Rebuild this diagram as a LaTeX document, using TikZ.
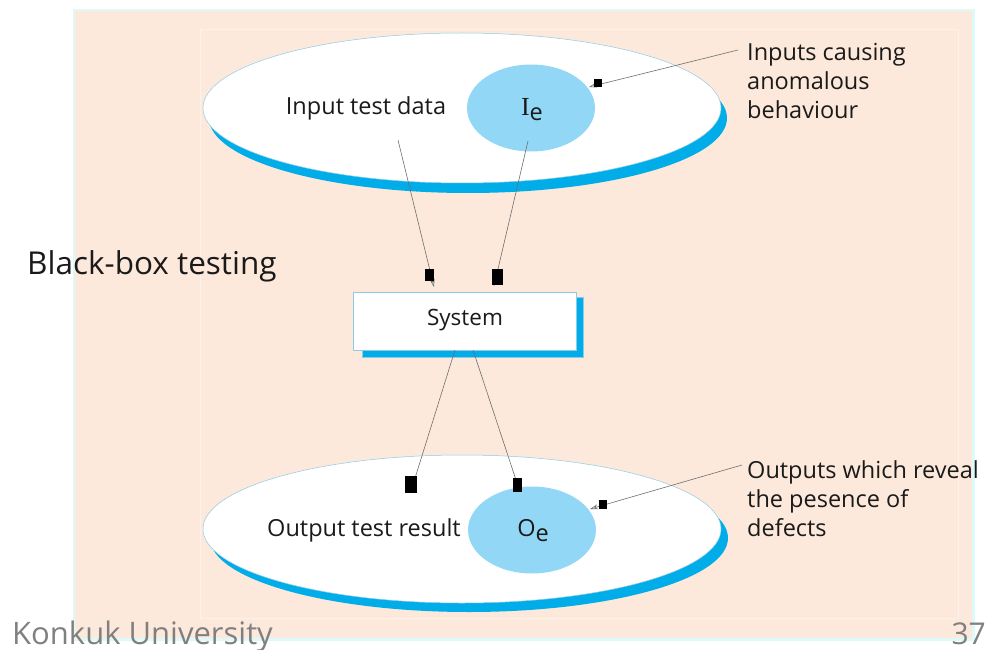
\documentclass[tikz,border=0pt]{standalone}
\usepackage{fontspec}
\setmainfont{Open Sans}
\newfontfamily\serifletter{Liberation Serif}
\usetikzlibrary{shapes.geometric,arrows.meta}

\definecolor{peach}{HTML}{FCE9DB}
\definecolor{panelrim}{HTML}{DCFAFA}
\definecolor{innerline}{HTML}{FDF1E9}
\definecolor{shadowblue}{HTML}{00ADE8}
\definecolor{setblue}{HTML}{92D8F6}
\definecolor{rimblue}{HTML}{8CCBE8}
\definecolor{arrowgray}{HTML}{6E6E6E}
\definecolor{footgray}{HTML}{808080}
\definecolor{ink}{HTML}{1A1A1A}

\begin{document}
\begin{tikzpicture}[x=1pt,y=-1pt,
  lbl/.style={inner sep=0pt, text=ink, font=\fontsize{23.5}{29}\selectfont},
  bigset/.style={ellipse, fill=white, draw=rimblue, line width=0.5pt,
    minimum width=518pt, minimum height=150pt, inner sep=0pt},
  subset/.style={ellipse, fill=setblue, minimum width=128pt,
    minimum height=87pt, inner sep=0pt},
  conn/.style={draw=arrowgray, line width=0.6pt,
    -{Stealth[open,length=8pt,width=5pt]}},
  blob/.style={fill=black}]
\useasboundingbox (0,0) rectangle (988,650);

% slide panel
\fill[panelrim] (73,9) rectangle (975,641);
\fill[peach] (75,11) rectangle (972,638);
\draw[innerline, line width=0.6pt] (200,29) rectangle (958,618);

% input domain
\fill[shadowblue] (468,118) ellipse [x radius=259pt, y radius=75pt];
\node[bigset] (indom) at (462,108) {};
\node[subset] (ie) at (531,108) {};
\node[lbl] (intext) at (366,108) {Input test data};
\node[lbl] (ielbl) at (532,110) {{\serifletter\fontsize{26}{29}\selectfont I}\raisebox{-5pt}{e}};

% output domain
\fill[shadowblue] (469,538) ellipse [x radius=259pt, y radius=74pt];
\node[bigset, minimum height=148pt] (outdom) at (462,529) {};
\node[subset] (oe) at (532,530) {};
\node[lbl] (outtext) at (364,530) {Output test result};
\node[lbl] (oelbl) at (533,531) {O\raisebox{-5pt}{e}};

% system box
\node[fill=shadowblue, draw=rimblue, line width=0.5pt, minimum width=221pt,
  minimum height=60pt, inner sep=0pt] (sysshadow) at (472.5,327.5) {};
\node[fill=white, draw=rimblue, line width=0.5pt, minimum width=223pt,
  minimum height=58pt, inner sep=0pt] (sys) at (464.5,321) {};
\node[lbl, font=\fontsize{22.5}{29}\selectfont] (syslbl) at (465,320) {System};

% callout texts
\node[lbl, anchor=north west, align=left] (incall) at (747,43)
  {Inputs causing\\anomalous\\behaviour};
\node[lbl, anchor=north west, align=left] (outcall) at (747,460)
  {Outputs which reveal\\the pesence of\\defects};

% titles
\node[inner sep=0pt, anchor=west, text=ink, font=\fontsize{31.5}{36}\selectfont]
  (title) at (27,266) {Black-box testing};
\node[inner sep=0pt, anchor=base west, text=footgray, font=\fontsize{31}{36}\selectfont]
  (footer) at (12,644) {Konkuk University};
\node[inner sep=0pt, anchor=base east, text=footgray, font=\fontsize{30}{36}\selectfont]
  (pageno) at (986,644) {37};

% connectors
\coordinate (a1s) at (398,140);  \coordinate (a1e) at (434,287);
\coordinate (a2s) at (528,141);  \coordinate (a2e) at (494,286);
\coordinate (a3s) at (455,350);  \coordinate (a3e) at (411,491);
\coordinate (a4s) at (473,350);  \coordinate (a4e) at (520,492);
\coordinate (c1s) at (738,50);   \coordinate (c1e) at (589,87);
\coordinate (c2s) at (742,465);  \coordinate (c2e) at (590,509);
\draw[conn] (a1s) -- (a1e);
\draw[conn] (a2s) -- (a2e);
\draw[conn] (a3s) -- (a3e);
\draw[conn] (a4s) -- (a4e);
\draw[conn] (c1s) -- (c1e);
\draw[conn] (c2s) -- (c2e);

% solid marks beside the arrow tips
\fill[blob] (425,269) rectangle (434,281);
\fill[blob] (492,269) rectangle (503,285);
\fill[blob] (405,476) rectangle (417,493);
\fill[blob] (513,478) rectangle (522,492);
\fill[blob] (594,79) rectangle (602,87);
\fill[blob] (599,500) rectangle (607,509);
\end{tikzpicture}
\end{document}
